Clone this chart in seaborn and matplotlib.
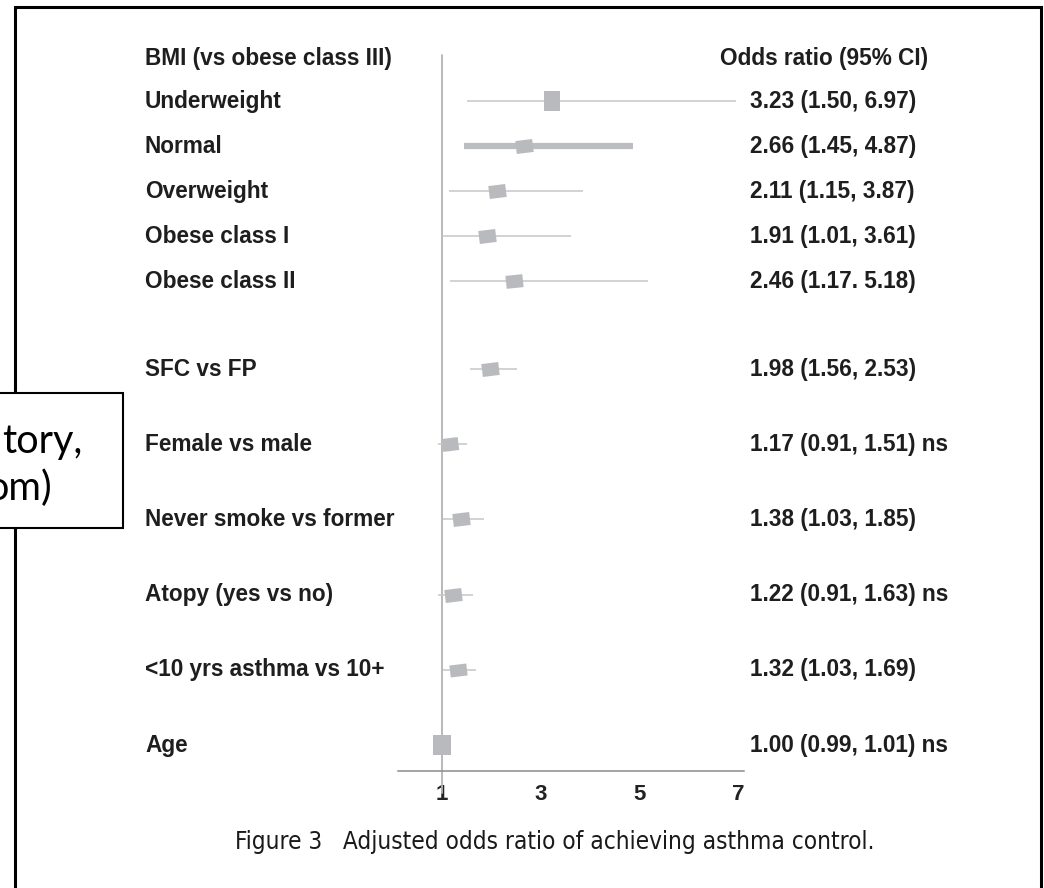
import matplotlib
matplotlib.use("Agg")
import matplotlib.pyplot as plt
import seaborn as sns
import pandas as pd
from matplotlib.markers import MarkerStyle
from matplotlib.transforms import Affine2D, blended_transform_factory
from matplotlib.patches import Rectangle

# ---------------- data ----------------
labels = ["Underweight", "Normal", "Overweight", "Obese class I", "Obese class II",
          "SFC vs FP", "Female vs male", "Never smoke vs former", "Atopy (yes vs no)",
          "<10 yrs asthma vs 10+", "Age"]
odds = [3.23, 2.66, 2.11, 1.91, 2.46, 1.98, 1.17, 1.38, 1.22, 1.32, 1.00]
ci_low = [1.50, 1.45, 1.15, 1.01, 1.17, 1.56, 0.91, 1.03, 0.91, 1.03, 0.99]
ci_high = [6.97, 4.87, 3.87, 3.61, 5.18, 2.53, 1.51, 1.85, 1.63, 1.69, 1.01]
ci_text = ["3.23 (1.50, 6.97)", "2.66 (1.45, 4.87)", "2.11 (1.15, 3.87)",
           "1.91 (1.01, 3.61)", "2.46 (1.17. 5.18)", "1.98 (1.56, 2.53)",
           "1.17 (0.91, 1.51) ns", "1.38 (1.03, 1.85)", "1.22 (0.91, 1.63) ns",
           "1.32 (1.03, 1.69)", "1.00 (0.99, 1.01) ns"]
group_header = "BMI (vs obese class III)"
value_header = "Odds ratio (95% CI)"
x_ticks = [1, 3, 5, 7]
caption = "Figure 3   Adjusted odds ratio of achieving asthma control."

df = pd.DataFrame({"label": labels, "odds": odds, "lo": ci_low, "hi": ci_high, "txt": ci_text})

# ---------------- layout (pixel units) ----------------
W, H = 1044, 888
# row vertical positions: 5 BMI rows tightly spaced, then the other rows widely spaced
row_y = [101 + 45 * i for i in range(5)] + [369 + 75.2 * j for j in range(6)]
df["y"] = row_y

# marker shapes per row (width px, height px, rotation deg)
mshape = [(17, 20, 0), (17, 13, 7), (17, 13, 7), (17, 13, 7), (17, 13, 6),
          (17, 13, 7), (16, 13, 7), (17, 13, 7), (17, 13, 7), (17, 12, 7), (19, 20, 0)]
ci_lw = [1.1, 4.5, 1.1, 1.1, 1.1, 1.1, 1.1, 1.1, 1.1, 1.1, 1.1]

sns.set_theme(style="white")
plt.rcParams["font.family"] = ["Liberation Sans", "DejaVu Sans"]

fig = plt.figure(figsize=(W / 100, H / 100), dpi=100)
fig.patch.set_facecolor("white")

def fx(px):
    return px / W

def fy(py):
    return 1 - py / H

# axes: x=1 at px 442, 49.3 px per unit; axis line from px 398 to 744
ax_left, ax_right, ax_top, ax_bottom = 398, 744, 40, 771
ax = fig.add_axes([fx(ax_left), fy(ax_bottom), (ax_right - ax_left) / W, (ax_bottom - ax_top) / H])
x0, ppu = 442, 49.3
ax.set_xlim((ax_left - x0) / ppu + 1, (ax_right - x0) / ppu + 1)
ax.set_ylim(ax_bottom, ax_top)
ax.set_facecolor("none")
for s in ["top", "right", "left"]:
    ax.spines[s].set_visible(False)
ax.spines["bottom"].set_color("#8c8c8c")
ax.spines["bottom"].set_linewidth(1.1)
ax.set_xticks(x_ticks)
ax.set_xticklabels([str(t) for t in x_ticks], fontsize=16, fontweight="bold", color="#222222")
ax.tick_params(axis="x", length=0, pad=9)
ax.set_yticks([])

# reference line at OR = 1
ax.plot([1, 1], [55, 793], color="#b3b3b3", lw=1.3, clip_on=False, zorder=1)

# CI lines
for i, r in df.iterrows():
    ax.plot([r["lo"], r["hi"]], [r["y"], r["y"]], color="#c6c6c6" if ci_lw[i] < 2 else "#bcbdc0",
            lw=ci_lw[i], solid_capstyle="butt", clip_on=False, zorder=2)

# point estimates
for i, r in df.iterrows():
    w, h, ang = mshape[i]
    m = MarkerStyle("s", transform=Affine2D().scale(w / h, 1.0).rotate_deg(ang))
    sns.scatterplot(x=[r["odds"]], y=[r["y"]], marker=m, s=(h * 0.72) ** 2,
                    color="#b9babe", linewidth=0, ax=ax, zorder=3, legend=False, clip_on=False)
ax.set_xlabel("")
ax.set_ylabel("")

# texts
tr = blended_transform_factory(fig.transFigure, ax.transData)
txt_kw = dict(fontsize=16.3, fontweight="bold", color="#1e1e1e", va="center")
ax.text(fx(145), 58, group_header, transform=tr, ha="left", **txt_kw)
ax.text(fx(720), 58, value_header, transform=tr, ha="left", **txt_kw)
for i, r in df.iterrows():
    ax.text(fx(145), r["y"], r["label"], transform=tr, ha="left", **txt_kw)
    ax.text(fx(750), r["y"], r["txt"], transform=tr, ha="left", **txt_kw)

fig.text(fx(555), fy(842), caption, ha="center", va="center", fontsize=17.5,
         family="DejaVu Sans", fontstretch="condensed", color="#1a1a1a")

# outer frame (bottom edge off canvas)
fig.add_artist(Rectangle((fx(15), fy(905)), fx(1041) - fx(15), fy(7) - fy(905),
                         transform=fig.transFigure, fill=False, edgecolor="black", lw=2.2, zorder=5))
# overlapping callout box on the left (clipped)
fig.add_artist(Rectangle((fx(-30), fy(528)), fx(123) - fx(-30), fy(393) - fy(528),
                         transform=fig.transFigure, facecolor="white", edgecolor="black", lw=1.5, zorder=6))
fig.text(fx(2), fy(453), "tory,", ha="left", va="baseline", fontsize=28.5,
         family=["Lato", "DejaVu Sans"], color="black", zorder=7)
fig.text(fx(52), fy(500), "om)", ha="right", va="baseline", fontsize=28.5,
         family=["Lato", "DejaVu Sans"], color="black", zorder=7)

fig.savefig("out.png", dpi=100, facecolor="white")
